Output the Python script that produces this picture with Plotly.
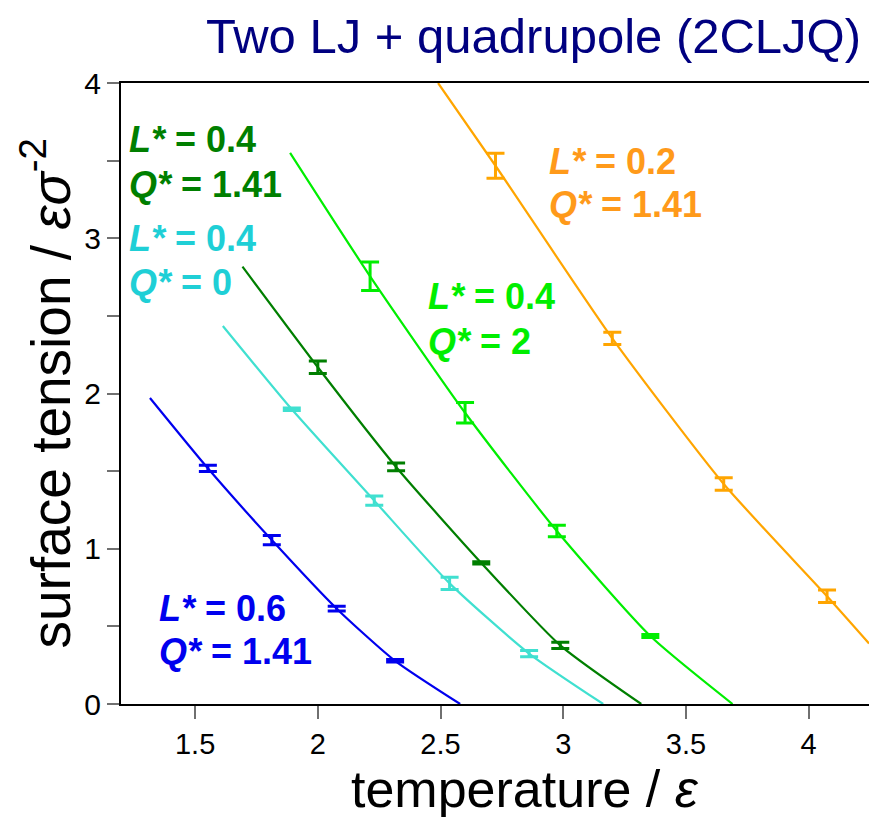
import plotly.graph_objects as go

# ---------------- data ----------------
# fitted curves
blue_curve_T = [1.316, 1.552, 1.8125, 2.077, 2.315, 2.58]
blue_curve_g = [1.971, 1.518, 1.056, 0.614, 0.278, 0.0]
cyan_curve_T = [1.613, 1.894, 2.23, 2.537, 2.861, 3.163]
cyan_curve_g = [2.435, 1.898, 1.31, 0.777, 0.325, 0.0]
dgreen_curve_T = [1.693, 2.0, 2.319, 2.666, 2.988, 3.318]
dgreen_curve_g = [2.817, 2.169, 1.527, 0.909, 0.378, 0.0]
green_curve_T = [1.887, 2.213, 2.6, 2.974, 3.355, 3.69]
green_curve_g = [3.55, 2.755, 1.876, 1.114, 0.438, 0.0]
orange_curve_T = [2.49, 2.724, 3.2, 3.654, 4.075, 4.246]
orange_curve_g = [4.0, 3.467, 2.355, 1.417, 0.694, 0.39]

# simulation points with error bars
blue_T = [1.552, 1.8125, 2.077, 2.315]
blue_g = [1.518, 1.056, 0.614, 0.278]
blue_e = [0.02, 0.03, 0.015, 0.008]
cyan_T = [1.894, 2.23, 2.537, 2.861]
cyan_g = [1.898, 1.31, 0.777, 0.325]
cyan_e = [0.008, 0.03, 0.04, 0.02]
dgreen_T = [2.0, 2.319, 2.666, 2.988]
dgreen_g = [2.169, 1.527, 0.909, 0.378]
dgreen_e = [0.04, 0.025, 0.008, 0.02]
green_T = [2.213, 2.6, 2.974, 3.355]
green_g = [2.755, 1.876, 1.114, 0.438]
green_e = [0.092, 0.066, 0.037, 0.01]
orange_T = [2.724, 3.2, 3.654, 4.075]
orange_g = [3.467, 2.355, 1.417, 0.694]
orange_e = [0.081, 0.04, 0.04, 0.04]

# labels: L*, Q* values
label_L = ["0.6", "0.4", "0.4", "0.4", "0.2"]
label_Q = ["1.41", "0", "1.41", "2", "1.41"]

title_text = "Two LJ + quadrupole (2CLJQ)"
x_title = "temperature / <i>ε</i>"
y_title = "surface tension / <i>εσ</i><sup>-2</sup>"
x_ticks = [1.5, 2, 2.5, 3, 3.5, 4]
x_ticktext = ["1.5", "2", "2.5", "3", "3.5", "4"]
y_ticks = [0, 0.5, 1, 1.5, 2, 2.5, 3, 3.5, 4]
y_ticktext = ["0", "", "1", "", "2", "", "3", "", "4"]

# ---------------- styling / placement ----------------
line_colors = ["#0000EE", "#40E0D0", "#007F00", "#00EE00", "#FFA500"]
text_colors = ["#0000EE", "#1FCFD6", "#007F00", "#00EE00", "#FF9A1A"]
# label anchor positions (x, y of L* line, y of Q* line) in data units
label_pos = [
    (1.345, 0.618, 0.335),
    (1.2226, 3.0016, 2.712),
    (1.2226, 3.633, 3.349),
    (2.4415, 2.628, 2.338),
    (2.935, 3.494, 3.217),
]

FONT = "Liberation Sans, Arial, Helvetica, sans-serif"

curves = [
    (blue_curve_T, blue_curve_g), (cyan_curve_T, cyan_curve_g),
    (dgreen_curve_T, dgreen_curve_g), (green_curve_T, green_curve_g),
    (orange_curve_T, orange_curve_g),
]
points = [
    (blue_T, blue_g, blue_e), (cyan_T, cyan_g, cyan_e),
    (dgreen_T, dgreen_g, dgreen_e), (green_T, green_g, green_e),
    (orange_T, orange_g, orange_e),
]

fig = go.Figure()
for (cT, cg), (pT, pg, pe), col in zip(curves, points, line_colors):
    fig.add_trace(go.Scatter(x=cT, y=cg, mode="lines",
                             line=dict(color=col, width=2.2, shape="spline", smoothing=0.6),
                             showlegend=False, hoverinfo="skip"))
    fig.add_trace(go.Scatter(x=pT, y=pg, mode="markers",
                             marker=dict(size=1, color=col, opacity=0),
                             error_y=dict(type="data", array=pe, visible=True,
                                          color=col, thickness=3, width=9),
                             showlegend=False))

for L, Q, (x, yL, yQ), col in zip(label_L, label_Q, label_pos, text_colors):
    for txt, yy in ((f"<b><i>L*</i> = {L}</b>", yL), (f"<b><i>Q*</i> = {Q}</b>", yQ)):
        fig.add_annotation(x=x, y=yy, xref="x", yref="y", text=txt,
                           showarrow=False, xanchor="left", yanchor="middle",
                           font=dict(family=FONT, size=36, color=col))

# title and axis titles
fig.add_annotation(x=(863 - 121) / 748, y=1 + (83 - 36) / 621, xref="paper", yref="paper",
                   text=title_text, showarrow=False, xanchor="right", yanchor="middle",
                   font=dict(family=FONT, size=49, color="#000080"))
fig.add_annotation(x=(525 - 121) / 748, y=-(789 - 704) / 621, xref="paper", yref="paper",
                   text=x_title, showarrow=False, xanchor="center", yanchor="middle",
                   font=dict(family=FONT, size=52, color="black"))
fig.add_annotation(x=(46 - 121) / 748, y=0.5, xref="paper", yref="paper",
                   text=y_title, showarrow=False, xanchor="center", yanchor="middle",
                   textangle=-90, font=dict(family=FONT, size=55, color="black"))

fig.update_layout(
    template="none",
    width=869, height=817,
    margin=dict(l=121, r=0, t=83, b=113, autoexpand=False),
    paper_bgcolor="white", plot_bgcolor="white",
    showlegend=False,
    xaxis=dict(range=[1.198, 4.246], tickvals=x_ticks, ticktext=x_ticktext,
               ticks="outside", ticklen=13, tickcolor="#707070", tickwidth=1.5,
               showline=True, linecolor="black", linewidth=2, mirror=True,
               showgrid=False, zeroline=False, automargin=False,
               tickfont=dict(family=FONT, size=29, color="black")),
    yaxis=dict(range=[0, 4], tickvals=y_ticks, ticktext=y_ticktext,
               ticks="outside", ticklen=12, tickcolor="#707070", tickwidth=1.5,
               showline=True, linecolor="black", linewidth=2, mirror=False,
               showgrid=False, zeroline=False, automargin=False,
               tickfont=dict(family=FONT, size=30, color="black")),
)

fig.write_html("out.html", config={"displayModeBar": False},
               post_script="document.body.style.margin='0px';"
                           "document.body.style.overflow='hidden';")
